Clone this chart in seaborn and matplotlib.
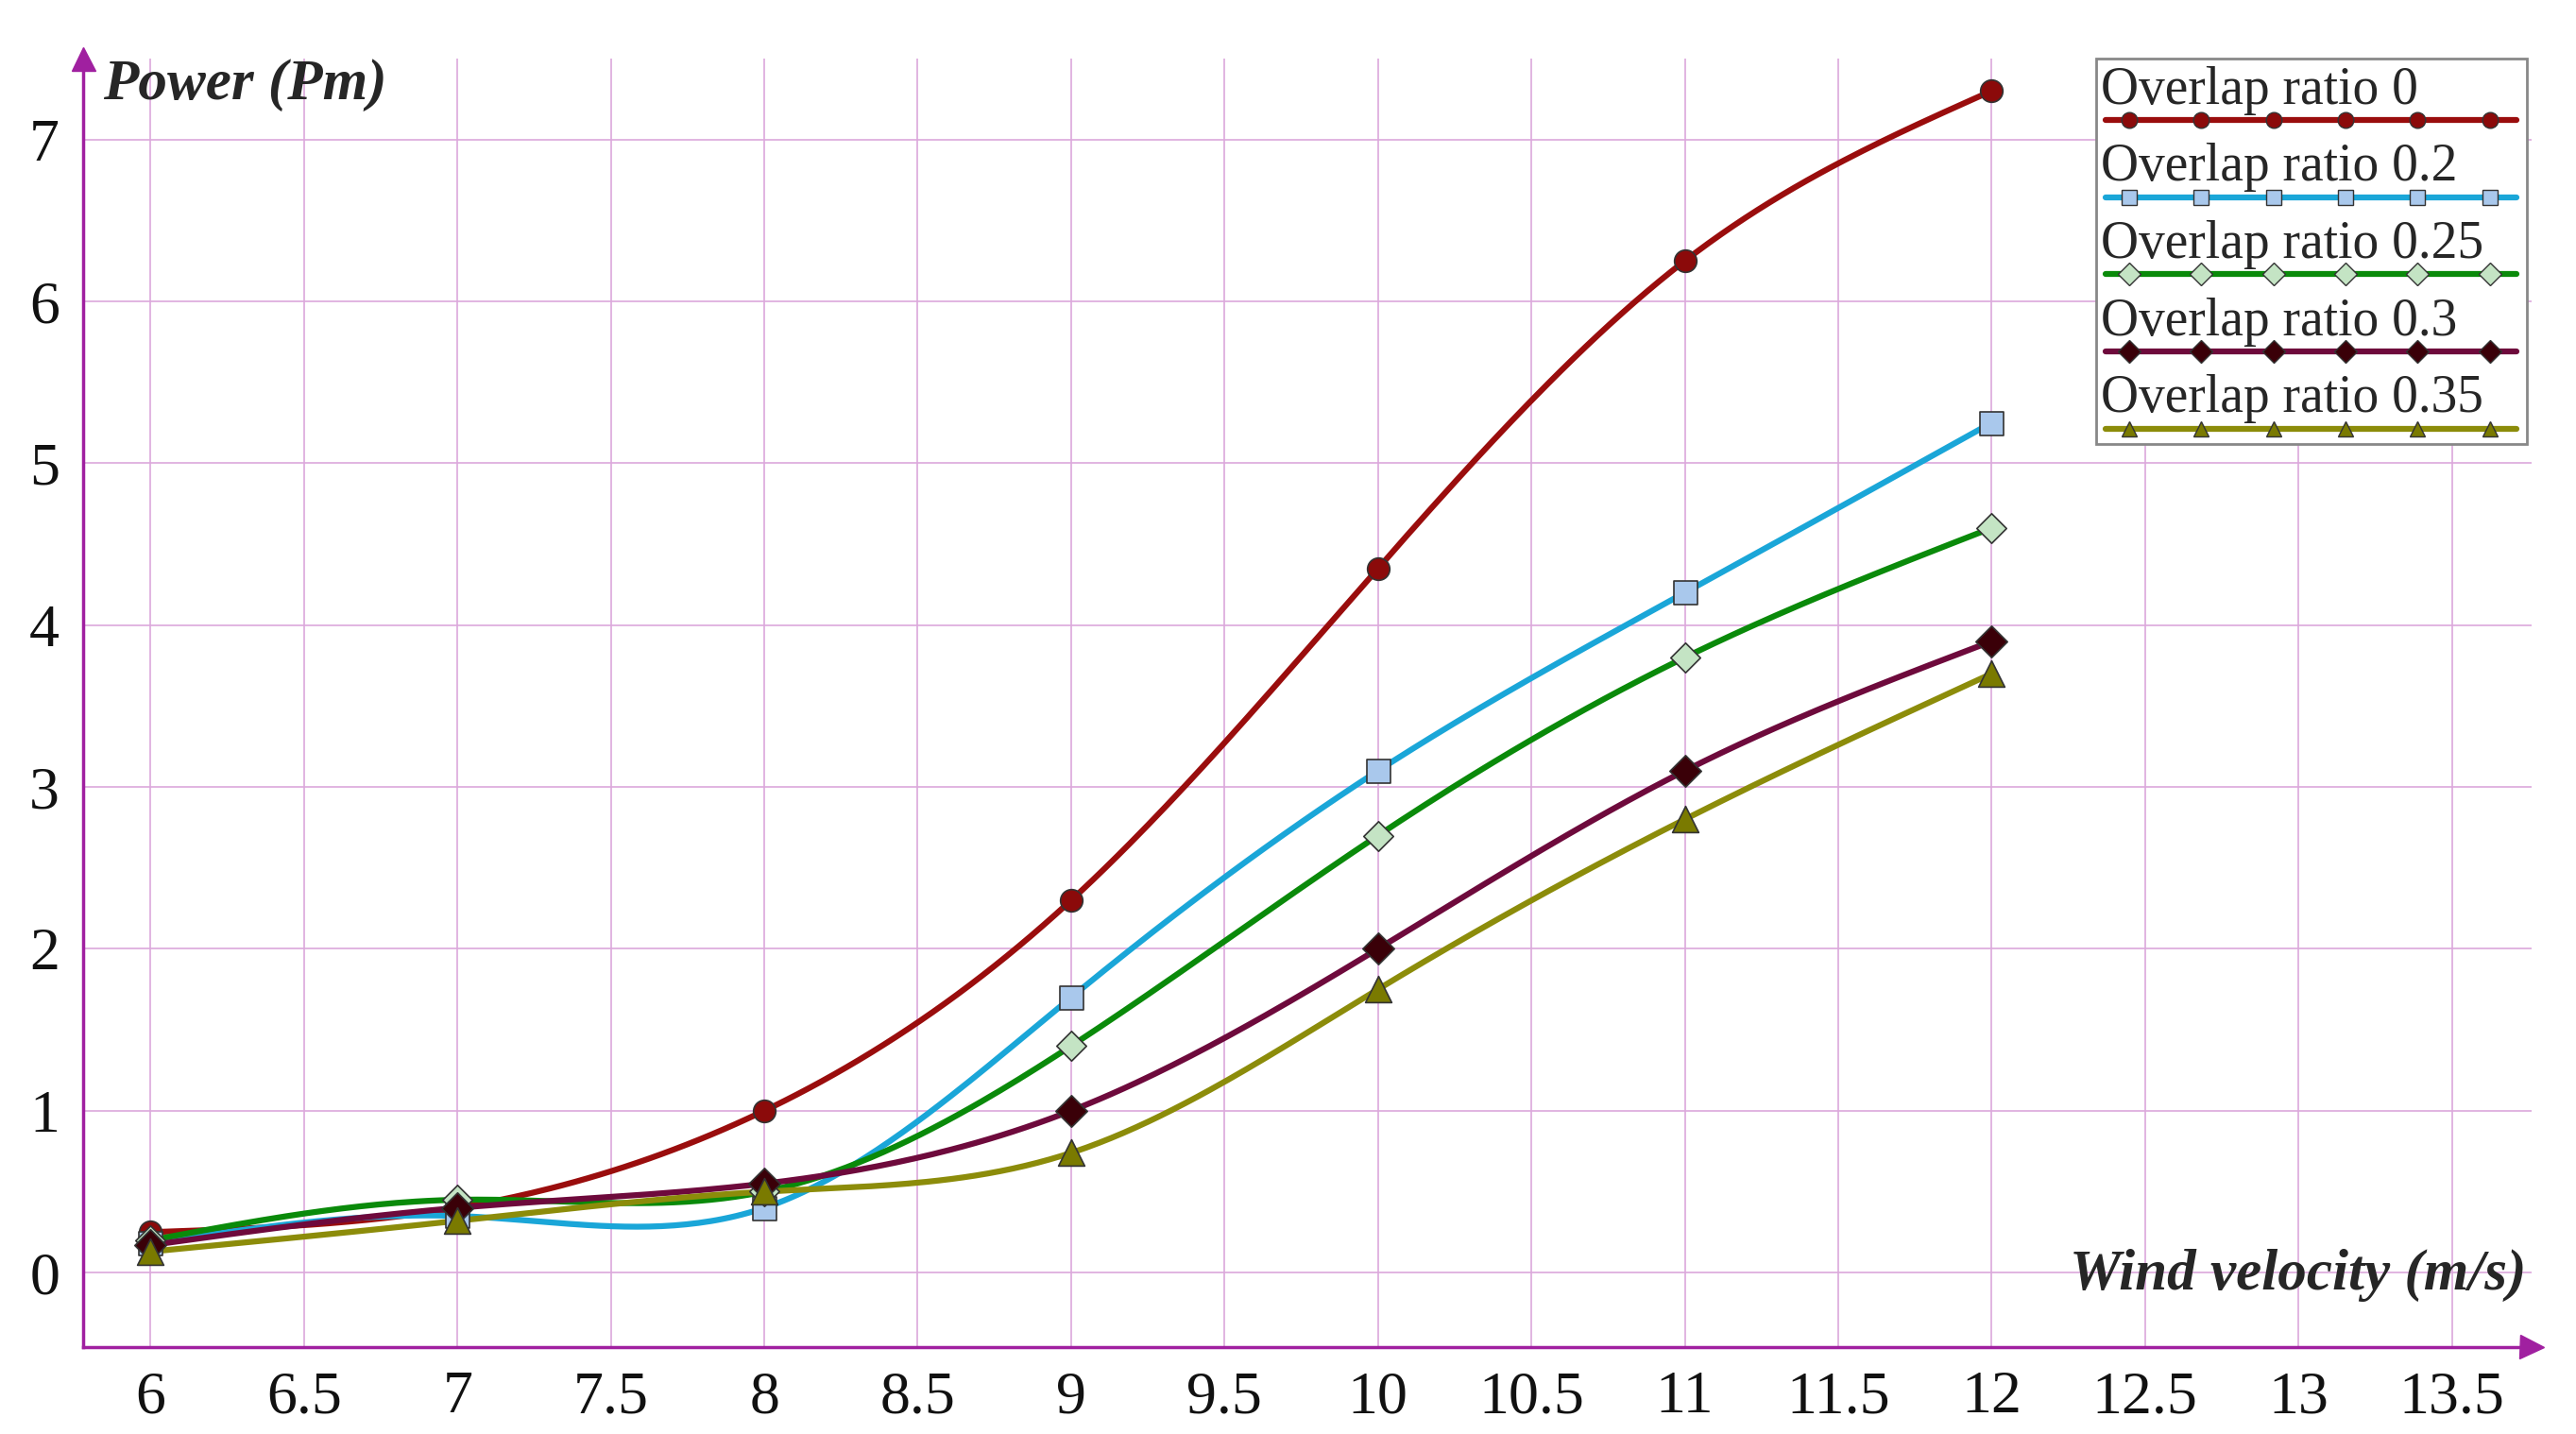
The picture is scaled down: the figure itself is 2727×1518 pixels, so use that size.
import numpy as np
import pandas as pd
import matplotlib
matplotlib.use("Agg")
import matplotlib.pyplot as plt
import seaborn as sns

# === Data ===
wind = [6, 7, 8, 9, 10, 11, 12]
ratios = ["0", "0.2", "0.25", "0.3", "0.35"]
power_0 = [0.25, 0.40, 1.00, 2.30, 4.35, 6.25, 7.30]
power_02 = [0.18, 0.35, 0.40, 1.70, 3.10, 4.20, 5.25]
power_025 = [0.20, 0.45, 0.50, 1.40, 2.70, 3.80, 4.60]
power_03 = [0.17, 0.40, 0.55, 1.00, 2.00, 3.10, 3.90]
power_035 = [0.13, 0.32, 0.50, 0.74, 1.75, 2.80, 3.70]
series = [power_0, power_02, power_025, power_03, power_035]

# === Styles ===
line_colors = ["#9a0d0d", "#1aa6d8", "#0a8a0a", "#6e0a3c", "#8c8c0a"]
marker_faces = ["#8b0a0a", "#a9c8ec", "#c4e4c4", "#3a0008", "#7a7a00"]
markers = ["o", "s", "D", "D", "^"]
msizes = [17, 18, 16, 17, 20]
grid_c = "#dca8dc"
axis_c = "#a020a0"


def spline(x, y, n=300):
    # natural cubic spline, only used to draw a smooth curve through the points
    x = np.asarray(x, float)
    y = np.asarray(y, float)
    h = np.diff(x)
    m = len(x)
    A = np.zeros((m, m))
    b = np.zeros(m)
    A[0, 0] = A[-1, -1] = 1
    for i in range(1, m - 1):
        A[i, i - 1] = h[i - 1]
        A[i, i] = 2 * (h[i - 1] + h[i])
        A[i, i + 1] = h[i]
        b[i] = 6 * ((y[i + 1] - y[i]) / h[i] - (y[i] - y[i - 1]) / h[i - 1])
    M = np.linalg.solve(A, b)
    xs = np.linspace(x[0], x[-1], n)
    idx = np.clip(np.searchsorted(x, xs) - 1, 0, m - 2)
    x0, x1 = x[idx], x[idx + 1]
    hh = x1 - x0
    t0, t1 = x1 - xs, xs - x0
    ys = (M[idx] * t0 ** 3 + M[idx + 1] * t1 ** 3) / (6 * hh) \
        + (y[idx] / hh - M[idx] * hh / 6) * t0 + (y[idx + 1] / hh - M[idx + 1] * hh / 6) * t1
    return xs, ys


sns.set_theme(style="white")
plt.rcParams["font.family"] = ["Liberation Serif", "DejaVu Serif"]

fig = plt.figure(figsize=(27.27, 15.18), dpi=100)
ax = fig.add_axes([88 / 2727, 1 - 1426 / 1518, (2680 - 88) / 2727, (1426 - 62) / 1518])

for vals, r, lc, mf, mk, ms in zip(series, ratios, line_colors, marker_faces, markers, msizes):
    xs, ys = spline(wind, vals)
    sns.lineplot(x=xs, y=ys, ax=ax, color=lc, lw=4.5, zorder=3)
    df = pd.DataFrame({"wind": wind, "power": vals})
    sns.scatterplot(data=df, x="wind", y="power", ax=ax, marker=mk, s=ms ** 2,
                    color=mf, edgecolor="#333333", linewidth=1.2, zorder=4)

ax.set_xlim(5.78, 13.76)
ax.set_ylim(-0.46, 7.5)
ax.set_xticks(np.arange(6, 14, 0.5))
ax.set_xticklabels([f"{v:g}" for v in np.arange(6, 14, 0.5)])
ax.set_yticks(range(0, 8))
ax.grid(True, color=grid_c, lw=1.2)
ax.set_axisbelow(True)
for s in ["top", "right"]:
    ax.spines[s].set_visible(False)
for s in ["left", "bottom"]:
    ax.spines[s].set_color(axis_c)
    ax.spines[s].set_linewidth(2.5)
ax.tick_params(axis="both", labelsize=46, length=8, color=axis_c, width=1.5,
               labelcolor="#111111", pad=10)
ax.set_xlabel("")
ax.set_ylabel("")

# axis arrows
ax.plot(1, 0, ">", transform=ax.transAxes, color=axis_c, ms=18, clip_on=False)
ax.plot(0, 1, "^", transform=ax.transAxes, color=axis_c, ms=18, clip_on=False)
ax.text(0.008, 1.0, "Power (Pm)", transform=ax.transAxes, fontsize=44,
        fontweight="bold", fontstyle="italic", va="top", ha="left")
ax.text(0.998, 0.035, "Wind velocity (m/s)", transform=ax.transAxes, fontsize=44,
        fontweight="bold", fontstyle="italic", va="bottom", ha="right")

# legend box: label above a marked line
lx0, lx1 = 0.822, 0.998
ly_top, ly_bot = 1.0, 1 - (470 - 62) / 1364
ax.add_patch(plt.Rectangle((lx0, ly_bot), lx1 - lx0, ly_top - ly_bot, transform=ax.transAxes,
                           facecolor="white", edgecolor="#888888", lw=2, zorder=5, clip_on=False))
step = (ly_top - ly_bot) / 5
for i, (r, lc, mf, mk) in enumerate(zip(ratios, line_colors, marker_faces, markers)):
    yb = ly_top - (i + 1) * step + 0.012
    ax.text(lx0 + 0.002, yb + 0.004, f"Overlap ratio {r}", transform=ax.transAxes,
            fontsize=40, va="bottom", ha="left", zorder=6)
    ax.plot([lx0 + 0.004, lx1 - 0.004], [yb, yb], transform=ax.transAxes, color=lc,
            lw=4.5, zorder=6, clip_on=False)
    ax.plot(np.linspace(lx0 + 0.0135, lx1 - 0.015, 6), [yb] * 6, mk, transform=ax.transAxes,
            color=mf, mec="#333333", ms=12, zorder=7, clip_on=False)

fig.savefig("out.png", dpi=100)
